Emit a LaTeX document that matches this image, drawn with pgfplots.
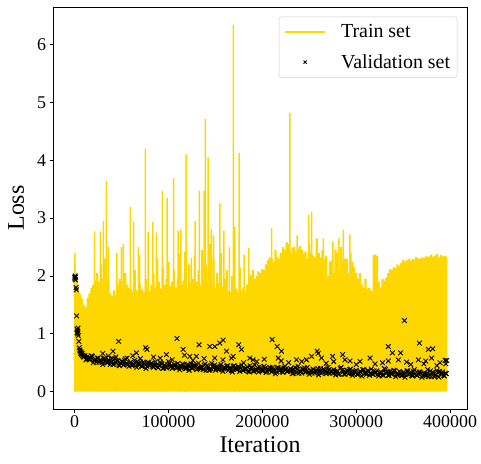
\documentclass[border=0pt]{standalone}
\usepackage{pgfplots}
\pgfplotsset{compat=1.18}
\usepackage{fontspec}
\setmainfont{Liberation Serif}
\definecolor{gold}{HTML}{FFD700}
\pgfplotsset{valleg/.style={legend image code/.code={\draw[##1, mark size=2.2bp] plot coordinates {(20bp,0bp)};}},
  trainleg/.style={legend image code/.code={\draw[draw=gold, line width=2bp] (0bp,0bp) -- (40bp,0bp);}}}
\begin{document}
\begin{tikzpicture}
\begin{axis}[
  at={(0,0)}, anchor=south west,
  scale only axis, width=414bp, height=402bp,
  xmin=-23000, xmax=418000, ymin=-0.30, ymax=6.65,
  xtick={0,100000,200000,300000,400000},
  ytick={0,1,2,3,4,5,6},
  scaled x ticks=false,
  xticklabel style={/pgf/number format/fixed,/pgf/number format/1000 sep={}},
  /pgf/number format/assume math mode=true,
  tick label style={font=\fontsize{18}{21}\selectfont, black},
  tick align=outside, xtick pos=lower, ytick pos=left,
  major tick length=3.5bp,
  tick style={black, line width=0.8bp},
  axis line style={line width=0.8bp},
  xlabel={Iteration}, ylabel={Loss},
  xlabel shift=2bp, ylabel shift=6bp,
  label style={font=\fontsize{24}{28}\selectfont},
  legend style={at={(0.9765,0.976)}, anchor=north east, draw=black!20, rounded corners=2.5bp,
    fill=white, font=\fontsize{20}{23}\selectfont, inner xsep=5bp, inner ysep=5.5bp, row sep=11.5bp, column sep=13bp},
  legend cell align=left,
]
% train set: body of the noisy curve (columns from 0 to the local maxima)
\addplot[ybar, bar shift=0pt, bar width=1200, fill=gold, draw=none, forget plot] coordinates {
(500,2.25)(1500,2.05)(2500,1.92)(3500,1.85)(4500,1.75)(5500,1.70)(6500,1.68)(7500,1.62)
};
\addplot[ybar, bar shift=0pt, bar width=2400, fill=gold, draw=none, forget plot] coordinates {
(8000,1.60)(10000,1.50)(12000,1.46)(14000,1.62)(16000,1.70)(18000,1.80)(20000,1.85)(22000,1.92)
(24000,2.05)(26000,1.90)(28000,2.20)(30000,1.95)(32000,2.30)(34000,2.00)(36000,1.90)
(38000,1.70)(40000,1.65)(42000,1.75)(44000,1.68)
(46000,1.85)(48000,1.95)(50000,1.80)(52000,1.90)(54000,2.05)(56000,1.85)(58000,1.80)
(60000,1.78)(62000,1.72)(64000,2.10)(66000,1.75)(68000,1.70)(70000,1.85)(72000,1.76)(74000,1.72)(76000,1.95)(78000,1.80)(80000,1.74)
(82000,1.85)(84000,2.05)(86000,1.80)(88000,2.30)(90000,1.90)(92000,1.78)(94000,2.15)(96000,1.85)(98000,1.95)(100000,2.25)
(102000,1.82)(104000,1.90)(106000,2.10)(108000,1.80)(110000,1.95)(112000,2.40)(114000,1.85)(116000,1.92)(118000,2.05)(120000,1.80)
(122000,2.20)(124000,1.88)(126000,1.95)
(128000,2.35)(130000,1.90)(132000,2.10)(134000,1.85)(136000,2.45)(138000,1.95)(140000,2.20)(142000,1.90)(144000,2.55)(146000,1.85)
(148000,2.30)(150000,1.80)(152000,2.05)(154000,1.88)(156000,2.40)(158000,1.82)(160000,1.95)(162000,2.10)
(164000,1.75)(166000,1.72)(168000,2.00)(170000,1.70)(172000,1.78)(174000,1.72)(176000,2.15)(178000,1.75)(180000,1.80)(182000,1.73)(184000,1.85)
(186000,1.98)(188000,2.02)(190000,2.10)(192000,1.95)(194000,2.00)(196000,2.08)(198000,2.05)(200000,2.12)(202000,2.10)
(204000,2.20)(206000,2.28)(208000,2.32)(210000,2.30)(212000,2.25)(214000,2.45)(216000,2.33)(218000,2.30)(220000,2.40)
(222000,2.50)(224000,2.45)(226000,2.58)(228000,2.55)(230000,2.40)(232000,2.48)(234000,2.50)(236000,2.42)(238000,2.47)(240000,2.52)
(242000,2.45)(244000,2.38)(246000,2.42)(248000,2.30)(250000,2.55)(252000,2.40)(254000,2.35)(256000,2.33)(258000,2.65)(260000,2.40)
(262000,2.32)(264000,2.45)(266000,2.30)
(268000,2.35)(270000,2.00)(272000,2.25)(274000,2.28)(276000,2.05)(278000,2.45)(280000,2.40)(282000,2.10)(284000,2.50)(286000,2.25)
(288000,2.30)(290000,2.30)(292000,2.05)(294000,2.40)(296000,2.25)
(298000,2.15)(300000,2.05)(302000,1.95)(304000,2.05)(306000,1.85)(308000,1.80)(310000,1.95)(312000,1.78)(314000,1.80)(316000,1.75)(318000,1.72)
(320000,2.37)(322000,2.35)(324000,1.90)(326000,1.80)(328000,1.95)(330000,1.92)(332000,1.97)
(334000,2.05)(336000,2.12)(338000,2.10)(340000,2.15)(342000,2.14)(344000,2.20)(346000,2.17)(348000,2.22)(350000,2.28)(352000,2.25)(354000,2.27)
(356000,2.30)(358000,2.26)(360000,2.30)(362000,2.28)(364000,2.33)(366000,2.30)(368000,2.30)(370000,2.32)(372000,2.31)(374000,2.34)
(376000,2.33)(378000,2.34)(380000,2.37)(382000,2.33)(384000,2.35)(386000,2.38)(388000,2.32)(390000,2.36)(392000,2.34)(394000,2.35)(396000,2.34)
};
% train set: isolated spikes
\addplot[ybar, bar shift=0pt, bar width=1.5bp, fill=gold, draw=none, forget plot] coordinates {
(300,2.40)(21300,2.77)(27400,2.77)(30600,2.95)(33800,3.64)(36000,2.50)(45000,2.40)(49800,2.50)(52000,2.55)(59400,3.20)
(62900,2.93)(68000,2.50)(69300,2.37)(75400,4.20)(78200,2.76)(83500,2.93)(87100,2.75)(93500,3.47)(98500,3.35)(105600,3.69)
(110200,2.78)(113100,2.80)(117300,2.42)(118800,4.10)(124400,2.31)(128400,2.95)(133000,3.47)(138000,3.47)(139400,4.72)(142200,4.05)
(145800,2.82)(148000,2.70)(154700,3.26)(159000,2.79)(165000,2.50)(169200,6.34)(170700,2.85)(175300,4.13)(180600,2.37)(185600,2.48)
(209800,2.83)(229300,4.82)(237000,2.70)(249200,3.06)(252400,3.11)(257800,2.54)(265000,2.65)(275000,2.60)(281600,2.65)(286200,2.80)
(293300,2.72)(318200,2.37)
};
\addlegendimage{trainleg}
\addlegendentry{Train set}
% validation set
\addplot[only marks, mark=x, mark size=3.3bp, black, mark options={line width=0.9bp}, valleg] coordinates {
(0,1.98)(300,1.95)(600,2.00)(900,1.93)(1200,1.98)(1500,1.80)(1800,1.76)(2100,1.31)(2500,1.08)(2800,1.02)
(3000,1.05)(3300,1.00)(3600,1.10)(4000,0.97)(4500,0.87)(5000,0.76)(5500,0.72)(6000,0.70)(6500,0.66)(7000,0.68)
(7500,0.64)(8000,0.66)(8500,0.62)(9000,0.63)(9500,0.60)
(10000,.60)(12000,.55)(14000,.61)(16000,.55)(18000,.62)(20000,.50)(22000,.56)(24000,.58)(26000,.51)(28000,.55)
(30000,.47)(32000,.58)(34000,.51)(36000,.55)(38000,.47)(40000,.58)(42000,.49)(44000,.50)(46000,.54)(48000,.45)
(50000,.52)(52000,.46)(54000,.57)(56000,.49)(58000,.44)(60000,.51)(62000,.46)(64000,.54)(66000,.42)(68000,.48)
(70000,.51)(72000,.44)(74000,.49)(76000,.40)(78000,.51)(80000,.45)(82000,.49)(84000,.42)(86000,.52)(88000,.43)
(90000,.45)(92000,.49)(94000,.40)(96000,.46)(98000,.41)(100000,.52)(102000,.44)(104000,.40)(106000,.47)(108000,.42)
(110000,.49)(112000,.38)(114000,.44)(116000,.47)(118000,.40)(120000,.45)(122000,.37)(124000,.48)(126000,.41)(128000,.45)
(130000,.38)(132000,.49)(134000,.40)(136000,.42)(138000,.46)(140000,.37)(142000,.43)(144000,.38)(146000,.49)(148000,.41)
(150000,.37)(152000,.44)(154000,.39)(156000,.47)(158000,.35)(160000,.41)(162000,.44)(164000,.37)(166000,.42)(168000,.34)
(170000,.45)(172000,.39)(174000,.43)(176000,.35)(178000,.46)(180000,.37)(182000,.39)(184000,.43)(186000,.34)(188000,.41)
(190000,.36)(192000,.46)(194000,.38)(196000,.34)(198000,.41)(200000,.36)(202000,.44)(204000,.33)(206000,.39)(208000,.42)
(210000,.34)(212000,.39)(214000,.31)(216000,.42)(218000,.36)(220000,.40)(222000,.33)(224000,.44)(226000,.35)(228000,.37)
(230000,.40)(232000,.31)(234000,.38)(236000,.33)(238000,.44)(240000,.36)(242000,.32)(244000,.39)(246000,.34)(248000,.42)
(250000,.30)(252000,.36)(254000,.39)(256000,.32)(258000,.37)(260000,.29)(262000,.40)(264000,.34)(266000,.38)(268000,.31)
(270000,.42)(272000,.32)(274000,.34)(276000,.38)(278000,.29)(280000,.36)(282000,.31)(284000,.42)(286000,.34)(288000,.30)
(290000,.37)(292000,.31)(294000,.39)(296000,.28)(298000,.34)(300000,.37)(302000,.30)(304000,.35)(306000,.27)(308000,.38)
(310000,.32)(312000,.36)(314000,.28)(316000,.39)(318000,.30)(320000,.32)(322000,.36)(324000,.27)(326000,.34)(328000,.29)
(330000,.40)(332000,.32)(334000,.28)(336000,.35)(338000,.30)(340000,.37)(342000,.26)(344000,.32)(346000,.35)(348000,.28)
(350000,.33)(352000,.25)(354000,.36)(356000,.30)(358000,.34)(360000,.27)(362000,.38)(364000,.29)(366000,.31)(368000,.34)
(370000,.25)(372000,.32)(374000,.27)(376000,.38)(378000,.30)(380000,.26)(382000,.33)(384000,.28)(386000,.36)(388000,.25)
(390000,.31)(392000,.34)(394000,.27)(396000,.31)
(11000,.62)(15000,.57)(19000,.61)(23000,.51)(27000,.54)(31000,.57)(35000,.50)(39000,.52)(43000,.57)(47000,.46)
(51000,.52)(55000,.48)(59000,.50)(63000,.47)(67000,.52)(71000,.44)(75000,.47)(79000,.50)(83000,.44)(87000,.46)
(91000,.51)(95000,.41)(99000,.47)(103000,.43)(107000,.46)(111000,.42)(115000,.48)(119000,.40)(123000,.43)(127000,.46)
(131000,.40)(135000,.43)(139000,.48)(143000,.37)(147000,.44)(151000,.40)(155000,.43)(159000,.40)(163000,.45)(167000,.37)
(171000,.40)(175000,.43)(179000,.37)(183000,.40)(187000,.45)(191000,.35)(195000,.41)(199000,.37)(203000,.40)(207000,.37)
(211000,.42)(215000,.34)(219000,.37)(223000,.41)(227000,.35)(231000,.37)(235000,.42)(239000,.32)(243000,.39)(247000,.35)
(251000,.37)(255000,.34)(259000,.40)(263000,.32)(267000,.35)(271000,.38)(275000,.32)(279000,.35)(283000,.40)(287000,.30)
(291000,.36)(295000,.32)(299000,.35)(303000,.32)(307000,.38)(311000,.30)(315000,.32)(319000,.36)(323000,.30)(327000,.33)
(331000,.38)(335000,.28)(339000,.34)(343000,.30)(347000,.33)(351000,.30)(355000,.36)(359000,.28)(363000,.31)(367000,.34)
(371000,.28)(375000,.31)(379000,.36)(383000,.26)(387000,.33)(391000,.30)(395000,.32)
(13000,.56)(17000,.58)(21000,.54)(25000,.58)(29000,.51)(33000,.54)(37000,.52)(41000,.47)(45000,.53)(49000,.49)
(53000,.54)(57000,.47)(61000,.45)(65000,.49)(69000,.46)(73000,.51)(77000,.44)(81000,.48)(85000,.46)(89000,.41)
(93000,.48)(97000,.43)(101000,.49)(105000,.42)(109000,.41)(113000,.44)(117000,.42)(121000,.47)(125000,.40)(129000,.44)
(133000,.42)(137000,.38)(141000,.45)(145000,.40)(149000,.46)(153000,.39)(157000,.38)(161000,.41)(165000,.39)(169000,.44)
(173000,.38)(177000,.41)(181000,.39)(185000,.35)(189000,.42)(193000,.37)(197000,.43)(201000,.36)(205000,.35)(209000,.39)
(213000,.36)(217000,.41)(221000,.35)(225000,.39)(229000,.37)(233000,.32)(237000,.39)(241000,.35)(245000,.41)(249000,.34)
(253000,.32)(257000,.36)(261000,.34)(265000,.39)(269000,.33)(273000,.36)(277000,.34)(281000,.30)(285000,.37)(289000,.33)
(293000,.38)(297000,.31)(301000,.30)(305000,.34)(309000,.32)(313000,.36)(317000,.30)(321000,.34)(325000,.32)(329000,.28)
(333000,.35)(337000,.31)(341000,.36)(345000,.29)(349000,.28)(353000,.32)(357000,.30)(361000,.35)(365000,.28)(369000,.32)
(373000,.30)(377000,.26)(381000,.33)(385000,.29)(389000,.35)(393000,.28)
(30000,0.66)(36000,0.62)(44000,0.60)(56000,0.58)(62000,0.62)(70000,0.57)(84000,0.60)(104000,0.55)(126000,0.54)(138000,0.57)
(158000,0.55)(180000,0.50)(194000,0.52)(202000,0.56)(228000,0.50)(242000,0.52)(268000,0.49)(276000,0.52)(300000,0.47)(320000,0.48)
(328000,0.50)(358000,0.47)(372000,0.48)(386000,0.45)
(46900,0.87)(109100,0.92)(132600,0.81)(144000,0.78)(149300,0.78)(154700,0.84)(158200,0.89)(161800,0.70)(174900,0.81)(177800,0.73)
(167100,0.58)(210500,0.90)(215800,0.78)(220400,0.70)(216900,0.58)(220000,0.53)(115600,0.73)(117000,0.63)(40900,0.70)(65800,0.67)
(75700,0.76)(77100,0.73)(97800,0.64)(91100,0.58)(122700,0.61)(129800,0.61)(149300,0.58)(168900,0.61)(186700,0.58)(190200,0.55)
(236400,0.55)(247000,0.55)(252400,0.61)(258400,0.70)(259500,0.66)(263000,0.58)(274800,0.61)(285500,0.64)(288000,0.55)(293300,0.53)
(304000,0.52)(314700,0.58)(334200,0.78)(338500,0.67)(334200,0.53)(344900,0.55)(347300,0.67)(351300,1.23)(353700,0.51)(367300,0.84)
(366200,0.55)(374000,0.53)(376900,0.73)(381500,0.74)(380400,0.58)(389300,0.50)(394700,0.54)(396400,0.54)(395500,0.48)
};
\addlegendentry{Validation set}
\end{axis}
\pgfresetboundingbox
\path (-53bp,-55bp) rectangle (428bp,409bp);
\end{tikzpicture}
\end{document}
